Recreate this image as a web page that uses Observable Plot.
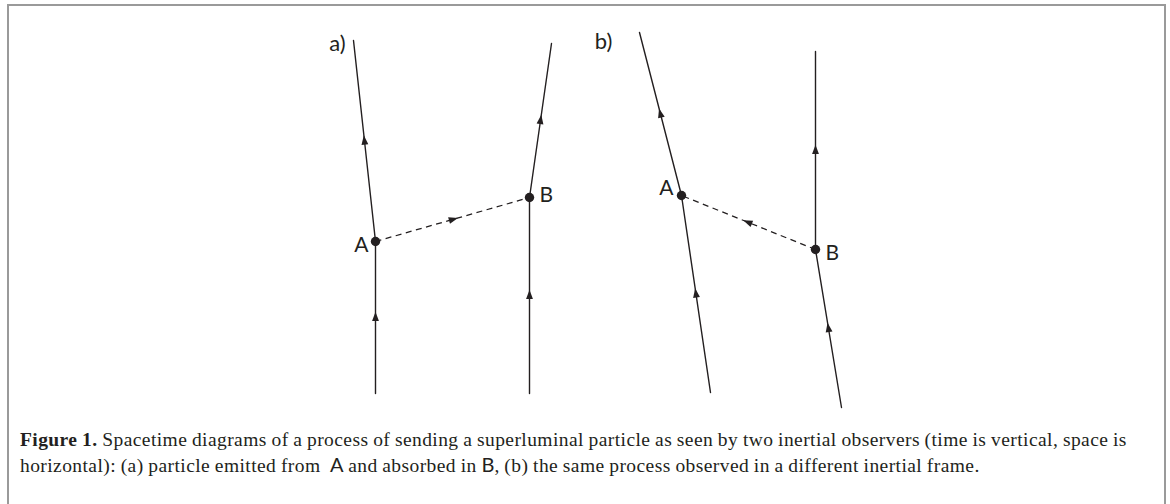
<!DOCTYPE html>
<html>
<head>
<meta charset="utf-8">
<script src="https://cdn.jsdelivr.net/npm/d3@7"></script>
<script src="https://cdn.jsdelivr.net/npm/@observablehq/plot@0.6"></script>
<style>
  html, body { margin: 0; padding: 0; background: #fff; }
  body { width: 1170px; height: 504px; position: relative; overflow: hidden; }
  #frame { position: absolute; left: 7px; top: 4px; width: 1155px; height: 520px;
           border: 2px solid #9a9a9a; border-bottom: none; box-sizing: content-box; }
  #chart { position: absolute; left: 0; top: 0; }
  #caption { position: absolute; left: 20px; top: 428px; font-family: "Liberation Serif", serif;
             font-size: 19.5px; letter-spacing: 0.42px; word-spacing: -0.6px; line-height: 24px; color: #231f20; white-space: nowrap; }
  #caption b { font-weight: bold; }
  #caption .s { font-family: Lato, "Open Sans", sans-serif; letter-spacing: 0; font-size: 20px; }
</style>
</head>
<body>
<div id="frame"></div>
<div id="chart"></div>
<div id="caption"><b>Figure 1.</b> Spacetime diagrams of a process of sending a superluminal particle as seen by two inertial observers (time is vertical, space is<br>horizontal): (a) particle emitted from&nbsp; <span class="s">A</span> and absorbed in <span class="s">B</span>, (b) the same process observed in a different inertial frame.</div>
<script>
// ---- data (diagram coordinates: x = space, y = time position on the page, downward) ----
const lineNames = ["a1","a1","a1","a2","a2","a2","b1","b1","b1","b2","b2","b2"];
const lineX     = [353, 375, 375, 551, 529, 529, 639, 681, 710, 815, 815, 841];
const lineY     = [ 40, 241, 393,  43, 197, 393,  32, 195, 392,  51, 249, 407];

const eventLabels = ["A", "B", "A", "B"];
const eventPanel  = ["a", "a", "b", "b"];
const eventX      = [375, 529, 681, 815];
const eventY      = [241, 197, 195, 249];

// superluminal signals: emitter index -> absorber index (into events)
const signalFrom = [0, 3];
const signalTo   = [1, 2];

const panelLabels = ["a)", "b)"];
const panelLabelX = [337, 603];
const panelLabelY = [43, 41];

// ---- build tables ----
const linePts = lineNames.map((n, i) => ({name: n, x: lineX[i], y: lineY[i]}));
const events = eventLabels.map((l, i) => ({label: l, panel: eventPanel[i], x: eventX[i], y: eventY[i]}));
const signals = signalFrom.map((f, i) => ({x1: eventX[f], y1: eventY[f], x2: eventX[signalTo[i]], y2: eventY[signalTo[i]]}));

// arrowheads at the middle of each segment, pointing forward in time / along the signal
const arrows = [];
const names = [...new Set(lineNames)];
for (const n of names) {
  const pts = linePts.filter(d => d.name === n);
  for (let i = 0; i < pts.length - 1; i++) {
    const top = pts[i], bot = pts[i + 1];
    arrows.push({x: (top.x + bot.x) / 2, y: (top.y + bot.y) / 2,
                 angle: Math.atan2(top.x - bot.x, -(top.y - bot.y)) * 180 / Math.PI});
  }
}
for (const s of signals) {
  arrows.push({x: (s.x1 + s.x2) / 2, y: (s.y1 + s.y2) / 2,
               angle: Math.atan2(s.x2 - s.x1, -(s.y2 - s.y1)) * 180 / Math.PI});
}

const arrowSymbol = {
  draw(context, size) {
    const r = Math.sqrt(size / Math.PI);
    context.moveTo(0, -1.6 * r);
    context.lineTo(r * 0.95, 1.0 * r);
    context.lineTo(-r * 0.95, 1.0 * r);
    context.closePath();
  }
};

const ink = "#231f20";
const font = "Lato, 'Open Sans', sans-serif";

const plot = Plot.plot({
  width: 1170,
  height: 420,
  margin: 0,
  x: {domain: [0, 1170], range: [0, 1170], axis: null},
  y: {domain: [0, 420], range: [0, 420], axis: null},
  style: {background: "transparent", fontFamily: font},
  marks: [
    Plot.line(linePts, {x: "x", y: "y", z: "name", stroke: ink, strokeWidth: 1.4}),
    Plot.link(signals, {x1: "x1", y1: "y1", x2: "x2", y2: "y2", stroke: ink, strokeWidth: 1.25, strokeDasharray: "6,4.5"}),
    Plot.dot(arrows, {x: "x", y: "y", rotate: "angle", symbol: arrowSymbol, r: 3.6, fill: ink, stroke: "none"}),
    Plot.dot(events, {x: "x", y: "y", r: 4.7, fill: ink, stroke: "none"}),
    Plot.text(events.filter(d => d.panel === "a" && d.label === "A"), {x: "x", y: "y", text: "label", textAnchor: "end", dx: -7, dy: 4, fontSize: 21, fill: ink}),
    Plot.text(events.filter(d => d.panel === "a" && d.label === "B"), {x: "x", y: "y", text: "label", textAnchor: "start", dx: 10, dy: -2, fontSize: 21, fill: ink}),
    Plot.text(events.filter(d => d.panel === "b" && d.label === "A"), {x: "x", y: "y", text: "label", textAnchor: "end", dx: -8, dy: -7, fontSize: 21, fill: ink}),
    Plot.text(events.filter(d => d.panel === "b" && d.label === "B"), {x: "x", y: "y", text: "label", textAnchor: "start", dx: 10, dy: 4, fontSize: 21, fill: ink}),
    Plot.text(panelLabels, {x: (d, i) => panelLabelX[i], y: (d, i) => panelLabelY[i], text: d => d, fontSize: 22, fill: ink})
  ]
});
document.getElementById("chart").appendChild(plot);
</script>
</body>
</html>
